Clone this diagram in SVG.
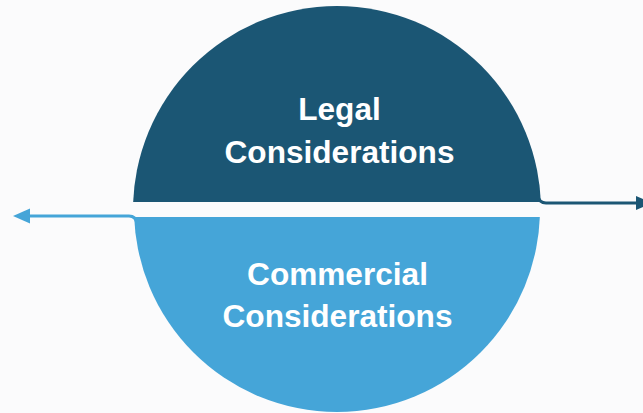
<svg xmlns="http://www.w3.org/2000/svg" width="643" height="413" viewBox="0 0 643 413">
<style>
.t{font-family:"Liberation Sans",Arial,sans-serif;font-weight:bold;font-size:31.6px;fill:#ffffff;text-anchor:middle}
</style>
<defs>
<clipPath id="ct"><rect x="0" y="0" width="643" height="202"/></clipPath>
<clipPath id="cb"><rect x="0" y="217" width="643" height="200"/></clipPath>
</defs>
<rect width="643" height="413" fill="#fbfbfc"/>
<g id="connectors" fill="none" stroke-width="3">
<path d="M137 224 Q136 216 129 216 L28 216" stroke="#45a5d8"/>
<polygon points="13,216 30,208.5 30,223.5" fill="#45a5d8" stroke="none"/>
<path d="M538 196 Q539 203 546 203 L636 203" stroke="#1b5674"/>
<polygon points="652,203 636,196 636,210" fill="#1b5674" stroke="none"/>
</g>
<g id="legal">
<circle cx="337" cy="210" r="204" fill="#1b5674" clip-path="url(#ct)"/>
<text class="t" x="339.5" y="120">Legal</text>
<text class="t" x="339.5" y="163">Considerations</text>
</g>
<g id="commercial">
<circle cx="337" cy="209" r="203" fill="#45a5d8" clip-path="url(#cb)"/>
<text class="t" x="337.5" y="285">Commercial</text>
<text class="t" x="337.5" y="327">Considerations</text>
</g>
</svg>
